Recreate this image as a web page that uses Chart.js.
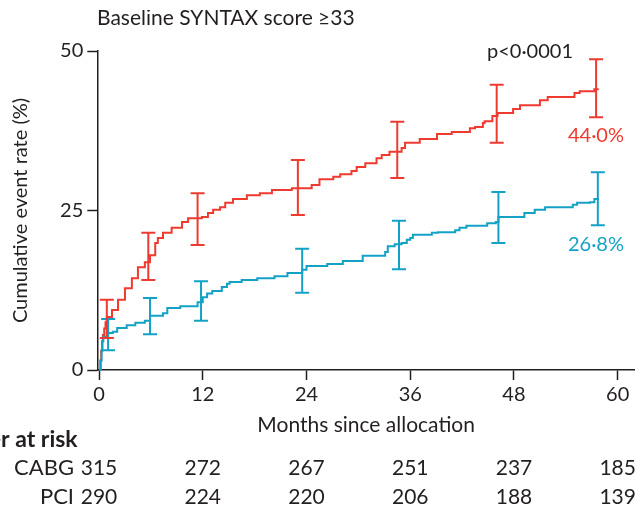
<!DOCTYPE html>
<html>
<head>
<meta charset="utf-8">
<script src="https://cdn.jsdelivr.net/npm/chart.js@4/dist/chart.umd.min.js"></script>
<style>
  html, body { margin: 0; padding: 0; background: #fff; }
  canvas { display: block; }
</style>
</head>
<body>
<canvas id="kmChart" width="635" height="511"></canvas>
<script>
// PCI (red) Kaplan-Meier steps: months / cumulative event rate (%)
var pciTime = [0, 0.15, 0.25, 0.35, 0.45, 0.6, 0.75, 0.9, 1.5, 2.2, 3.0, 3.8, 4.5, 5.3, 5.9, 6.5, 6.8, 7.4, 8.4, 9.6, 10.3,
	11.9, 12.6, 13.2, 14.0, 14.6, 15.5, 17.1, 18.6, 20.0, 22.3, 24.6, 25.5, 27.1, 27.9, 29.2, 29.8, 30.8, 32.1, 32.7, 33.6,
	35.0, 35.4, 37.1, 39.1, 40.8, 42.9, 43.5, 44.4, 44.6, 45.5, 46.1, 47.9, 48.7, 51.0, 51.9, 55.0, 55.6, 57.3, 57.8];
var pciRate = [0, 1.5, 3.0, 4.5, 5.5, 6.5, 7.5, 8.3, 9.4, 11.0, 12.8, 14.4, 16.1, 16.9, 18.0, 19.9, 20.7, 21.5, 22.3, 23.2, 23.8,
	24.0, 24.6, 25.1, 25.5, 26.2, 26.8, 27.4, 27.7, 28.2, 28.5, 29.0, 29.9, 30.3, 30.7, 31.2, 31.8, 32.4, 33.2, 33.7, 34.2,
	34.8, 35.6, 36.2, 37.0, 37.3, 37.9, 38.1, 38.7, 39.0, 39.8, 40.3, 40.9, 41.5, 42.3, 42.8, 43.4, 43.7, 44.0, 44.0];

// CABG (blue)
var cabgTime = [0, 0.2, 0.3, 0.4, 0.5, 0.9, 1.6, 2.1, 3.2, 4.2, 5.3, 5.9, 7.4, 7.9, 9.4, 11.4, 12.0, 12.5, 13.1, 14.2, 14.8,
	15.1, 16.5, 18.3, 20.3, 21.8, 23.5, 24.0, 26.4, 28.2, 30.5, 33.1, 33.4, 34.2, 35.0, 35.6, 36.0, 36.3, 38.5, 39.2, 41.2,
	41.7, 42.5, 44.9, 45.9, 46.2, 49.2, 50.4, 51.6, 54.8, 55.3, 56.8, 57.3, 57.8];
var cabgRate = [0, 1.5, 3.0, 4.5, 5.2, 5.8, 6.0, 6.6, 7.0, 7.4, 7.7, 8.5, 8.9, 9.7, 10.0, 10.6, 11.4, 12.0, 12.4, 13.0, 13.5,
	13.8, 14.1, 14.4, 14.7, 15.2, 15.7, 16.3, 16.6, 17.1, 17.9, 18.5, 19.4, 19.7, 19.9, 20.4, 20.7, 21.2, 21.5, 21.6, 21.9,
	22.3, 22.6, 23.0, 23.2, 24.0, 24.6, 25.1, 25.5, 25.9, 26.2, 26.3, 26.8, 26.8];

// 95% CI bars
var pciBarTime = [0.9, 5.7, 11.4, 23.0, 34.5, 46.0, 57.5];
var pciBarLow = [5.0, 14.1, 19.6, 24.3, 30.1, 35.6, 39.6];
var pciBarHigh = [11.0, 21.5, 27.7, 32.9, 38.9, 44.7, 48.7];
var cabgBarTime = [1.05, 5.9, 11.8, 23.5, 34.7, 46.2, 57.7];
var cabgBarLow = [3.1, 5.6, 7.7, 12.1, 15.8, 19.9, 22.7];
var cabgBarHigh = [8.0, 11.3, 13.9, 19.0, 23.4, 27.9, 31.0];

var xTicks = [0, 12, 24, 36, 48, 60];
var yTicks = [0, 25, 50];

// number at risk
var riskTimes = [0, 12, 24, 36, 48, 60];
var cabgRisk = [315, 272, 267, 251, 237, 185];
var pciRisk = [290, 224, 220, 206, 188, 139];

var RED = '#ee3a2f';
var BLUE = '#13a2c6';
var INK = '#231f20';
var FONT = 'Lato, "Open Sans", sans-serif';

function toPoints(t, v) {
	return t.map(function (d, i) { return { x: d, y: v[i] }; });
}

var extras = {
	id: 'extras',
	afterDatasetsDraw: function (chart) {
		var ctx = chart.ctx;
		var xs = chart.scales.x, ys = chart.scales.y;
		function bars(t, lo, hi, color) {
			ctx.save();
			ctx.strokeStyle = color;
			ctx.lineWidth = 2;
			t.forEach(function (d, i) {
				var px = xs.getPixelForValue(d);
				var top = ys.getPixelForValue(hi[i]);
				var bot = ys.getPixelForValue(lo[i]);
				ctx.beginPath();
				ctx.moveTo(px, top); ctx.lineTo(px, bot);
				ctx.moveTo(px - 7, top); ctx.lineTo(px + 7, top);
				ctx.moveTo(px - 7, bot); ctx.lineTo(px + 7, bot);
				ctx.stroke();
			});
			ctx.restore();
		}
		bars(cabgBarTime, cabgBarLow, cabgBarHigh, BLUE);
		bars(pciBarTime, pciBarLow, pciBarHigh, RED);
	},
	afterDraw: function (chart) {
		var ctx = chart.ctx;
		var xs = chart.scales.x;
		ctx.save();
		ctx.font = '20px ' + FONT;
		ctx.textBaseline = 'alphabetic';

		// title, cut at the top like the source figure
		ctx.save();
		ctx.beginPath();
		ctx.rect(0, 10, chart.width, 30);
		ctx.clip();
		ctx.fillStyle = INK;
		ctx.textAlign = 'left';
		ctx.font = '21px ' + FONT;
		ctx.fillText('Baseline SYNTAX score \u226533', 97, 25);
		ctx.restore();

		ctx.fillStyle = INK;
		ctx.textAlign = 'left';
		ctx.fillText('p<0\u00b70001', 487, 58);
		ctx.textAlign = 'right';
		ctx.fillStyle = RED;
		ctx.fillText('44\u00b70%', 624, 142);
		ctx.fillStyle = BLUE;
		ctx.fillText('26\u00b78%', 624, 251);

		// number at risk table (header runs off the left edge as in the source)
		ctx.fillStyle = INK;
		ctx.font = 'bold 23px ' + FONT;
		ctx.textAlign = 'left';
		ctx.fillText('Number at risk', 1 - ctx.measureText('Numbe').width, 447);
		ctx.font = '22px ' + FONT;
		ctx.textAlign = 'right';
		ctx.fillText('CABG', 74, 475);
		ctx.fillText('PCI', 74, 504);
		ctx.font = '21px ' + FONT;
		ctx.textAlign = 'center';
		riskTimes.forEach(function (t, i) {
			var px = xs.getPixelForValue(t);
			ctx.fillText(String(cabgRisk[i]), px, 475);
			ctx.fillText(String(pciRisk[i]), px, 504);
		});
		ctx.restore();
	}
};

Chart.defaults.font.family = FONT;
Chart.defaults.font.size = 20;
Chart.defaults.color = INK;

var context = document.getElementById('kmChart').getContext('2d');
var myChart = new Chart(context, {
	type: 'scatter',
	data: {
		datasets: [
			{
				label: 'CABG',
				data: toPoints(cabgTime, cabgRate),
				showLine: true,
				stepped: true,
				borderColor: BLUE,
				borderWidth: 2,
				pointRadius: 0,
				clip: false
			},
			{
				label: 'PCI',
				data: toPoints(pciTime, pciRate),
				showLine: true,
				stepped: true,
				borderColor: RED,
				borderWidth: 2,
				pointRadius: 0,
				clip: false
			}
		]
	},
	options: {
		responsive: false,
		animation: false,
		devicePixelRatio: 1,
		layout: { padding: { top: 51, right: 0, left: 0, bottom: 0 } },
		plugins: {
			legend: { display: false },
			tooltip: { enabled: false }
		},
		scales: {
			x: {
				type: 'linear',
				min: -0.2,
				max: 62,
				afterBuildTicks: function (s) { s.ticks = xTicks.map(function (v) { return { value: v }; }); },
				afterFit: function (s) { s.height = 141; },
				grid: { drawOnChartArea: false, drawTicks: true, tickLength: 10, tickWidth: 1.5, color: INK },
				border: { display: true, color: INK, width: 1.5 },
				ticks: { padding: 3, color: INK, maxRotation: 0 },
				title: { display: true, text: 'Months since allocation', color: INK, font: { size: 21 }, padding: { top: 0, bottom: 73 } }
			},
			y: {
				min: 0,
				max: 50,
				afterBuildTicks: function (s) { s.ticks = yTicks.map(function (v) { return { value: v }; }); },
				afterFit: function (s) { s.width = 97.3; },
				grid: { drawOnChartArea: false, drawTicks: true, tickLength: 10, tickWidth: 1.5, color: INK },
				border: { display: true, color: INK, width: 1.5 },
				ticks: { padding: 4, color: INK },
				title: { display: true, text: 'Cumulative event rate (%)', color: INK, padding: { top: 9, bottom: 0 } }
			}
		}
	},
	plugins: [extras]
});
</script>
</body>
</html>
